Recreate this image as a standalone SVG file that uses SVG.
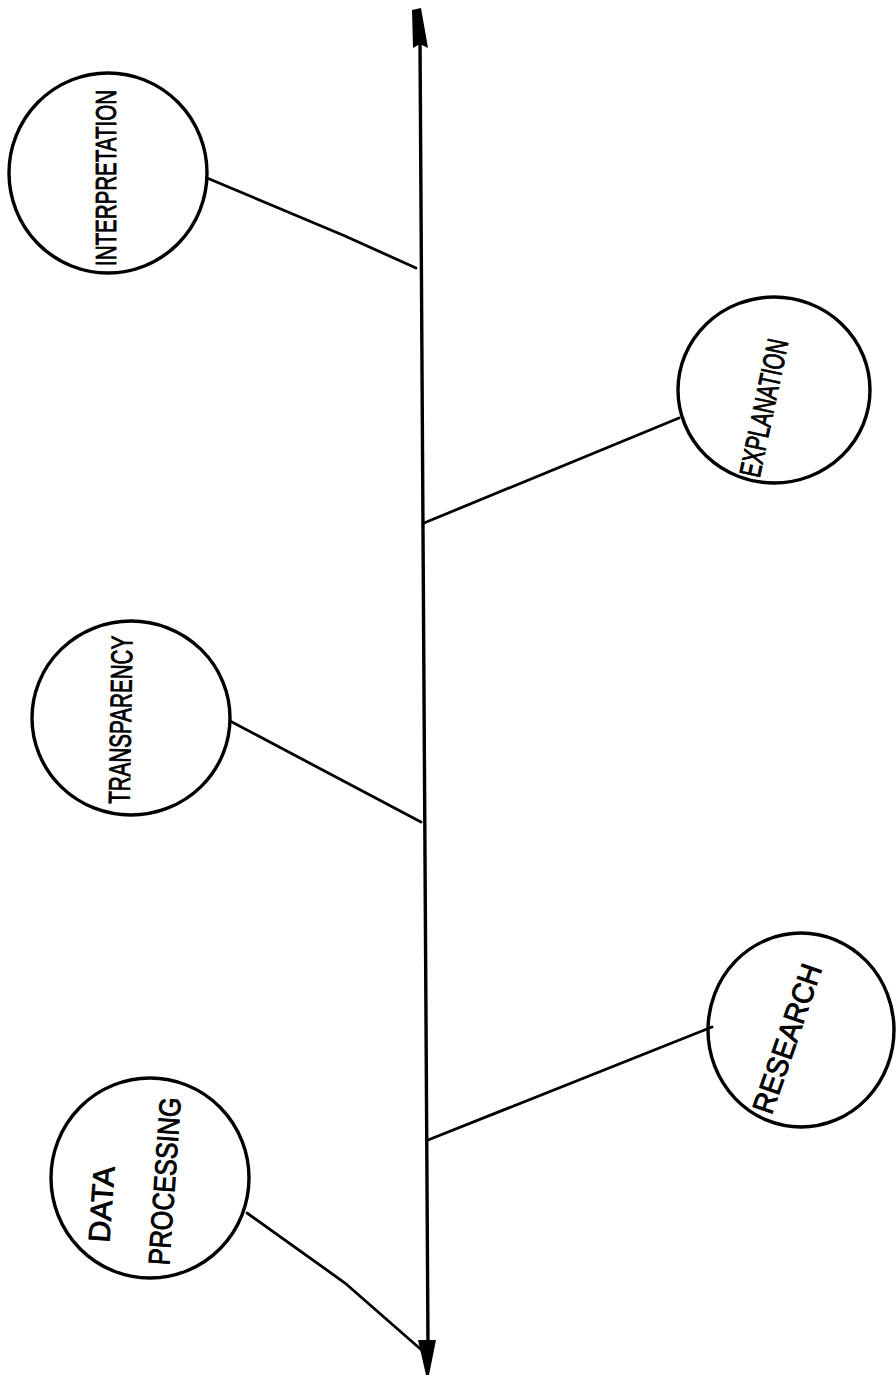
<svg xmlns="http://www.w3.org/2000/svg" width="896" height="1377" viewBox="0 0 896 1377">
<style>
.node{fill:none;stroke:#000;stroke-width:3.4}
.conn{fill:none;stroke:#000;stroke-width:2.8;stroke-linecap:round}
.axis{fill:none;stroke:#000;stroke-width:3.4}
.lbl{font-family:"Liberation Sans",Arial,sans-serif;font-size:30px;fill:#000;stroke:#000;stroke-width:0.9;text-anchor:middle}
</style>
<rect width="896" height="1377" fill="#fff"/>
<g id="connectors">
<line class="axis" x1="420" y1="40" x2="428" y2="1346"/>
<path d="M412,10 L421,8 L428,48 L420,44 L413,48 Z" fill="#000"/>
<path d="M418,1340 L436,1340 L429,1375 L426,1375 Z" fill="#000"/>
<path class="conn" d="M207,178 L345,236 L416,268"/>
<path class="conn" d="M679,418 L424,523"/>
<path class="conn" d="M230,721 L421,822"/>
<path class="conn" d="M712,1027 L428,1140"/>
<path class="conn" d="M247,1213 L345,1283 L425,1353"/>
</g>
<g id="interpretation">
<ellipse class="node" cx="108" cy="173" rx="99" ry="100"/>
<text class="lbl" transform="translate(116,178) rotate(-90)" textLength="176" lengthAdjust="spacingAndGlyphs">INTERPRETATION</text>
</g>
<g id="explanation">
<ellipse class="node" cx="774" cy="390" rx="96" ry="93"/>
<text class="lbl" transform="translate(774,410) rotate(-78)" textLength="140" lengthAdjust="spacingAndGlyphs">EXPLANATION</text>
</g>
<g id="transparency">
<ellipse class="node" cx="131" cy="718" rx="99" ry="97"/>
<text class="lbl" transform="translate(131,720) rotate(-89)" textLength="168" lengthAdjust="spacingAndGlyphs">TRANSPARENCY</text>
</g>
<g id="research">
<ellipse class="node" cx="801" cy="1030" rx="93" ry="97"/>
<text class="lbl" transform="translate(797,1042) rotate(-71)" textLength="156" lengthAdjust="spacingAndGlyphs">RESEARCH</text>
</g>
<g id="data-processing">
<ellipse class="node" cx="150" cy="1178" rx="99" ry="100"/>
<text class="lbl" transform="translate(112,1205) rotate(-86)" textLength="76" lengthAdjust="spacingAndGlyphs">DATA</text>
<text class="lbl" transform="translate(175,1182) rotate(-86)" textLength="168" lengthAdjust="spacingAndGlyphs">PROCESSING</text>
</g>
</svg>
